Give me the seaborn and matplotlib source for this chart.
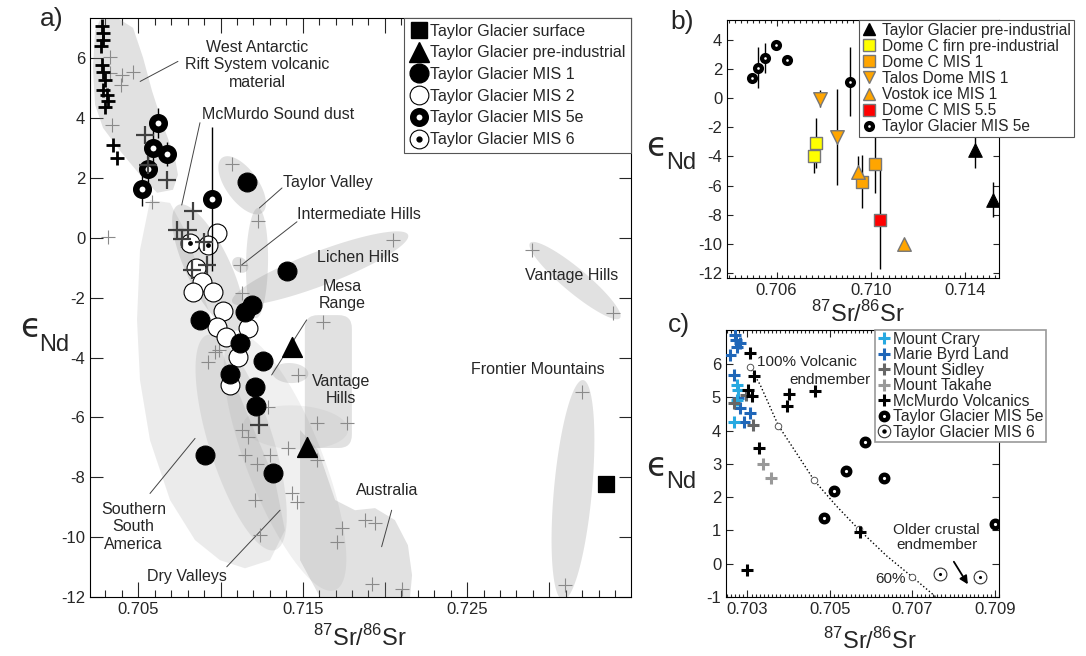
import numpy as np
import seaborn as sns
import matplotlib.pyplot as plt
from matplotlib.lines import Line2D
from matplotlib.patches import Polygon, FancyBboxPatch
from matplotlib.ticker import MultipleLocator, FixedLocator, FuncFormatter

sns.set_style('ticks')
plt.rcParams['font.family'] = ['Liberation Sans', 'DejaVu Sans']
plt.rcParams['mathtext.fontset'] = 'custom'
plt.rcParams['mathtext.rm'] = 'Liberation Sans'
plt.rcParams['axes.unicode_minus'] = False

# ---------------- panel a data ----------------
a_surface_x = [0.73345]
a_surface_y = [-8.23]
a_preind_x = [0.71433, 0.71524]
a_preind_y = [-3.66, -6.99]
a_mis1_x = [0.71159, 0.71403, 0.71190, 0.71149, 0.70875, 0.71119, 0.71260, 0.71058, 0.71210, 0.71216, 0.70906, 0.71317]
a_mis1_y = [1.88, -1.09, -2.24, -2.46, -2.74, -3.50, -4.12, -4.55, -4.97, -5.62, -7.26, -7.87]
a_mis2_x = [0.70977, 0.70851, 0.70886, 0.70835, 0.70956, 0.71013, 0.70977, 0.71033, 0.71165, 0.71108, 0.71058]
a_mis2_y = [0.16, -1.01, -1.46, -1.80, -1.80, -2.44, -2.97, -3.30, -3.00, -3.97, -4.92]
a_mis5e_x = [0.70622, 0.70591, 0.70676, 0.70561, 0.70521, 0.70946]
a_mis5e_y = [3.84, 3.00, 2.81, 2.30, 1.63, 1.30]
a_mis5e_err = [0.5, 0.7, 0.4, 0.5, 0.55, 2.4]
a_mis6_x = [0.70815, 0.70922]
a_mis6_y = [-0.18, -0.23]

a_wars_x = [0.70277, 0.70287, 0.70283, 0.70271, 0.70281, 0.70287, 0.70297, 0.70287, 0.70308, 0.70318, 0.70297, 0.70348, 0.70369]
a_wars_y = [7.07, 6.85, 6.62, 6.40, 5.79, 5.56, 5.28, 4.95, 4.78, 4.56, 4.39, 3.11, 2.67]
a_dust_x = [0.70541, 0.70561, 0.70676, 0.70831, 0.70734, 0.70804, 0.70764, 0.70900, 0.70825, 0.70916, 0.71235]
a_dust_y = [3.44, 2.44, 1.94, 0.91, 0.27, 0.27, -0.04, -0.12, -1.07, -0.90, -6.25]
a_src_x = [0.70328, 0.70328, 0.70399, 0.70393, 0.70466, 0.70338, 0.70582, 0.70318, 0.71068, 0.71230,
           0.71119, 0.71129, 0.71625, 0.72047, 0.72893, 0.73389, 0.73197, 0.73096, 0.71879, 0.71940,
           0.71920, 0.72102, 0.70967, 0.70926, 0.70990, 0.71473, 0.71291, 0.71129, 0.71170, 0.71585,
           0.71768, 0.71412, 0.71585, 0.71149, 0.71220, 0.71301, 0.71210, 0.71433, 0.71464, 0.71240,
           0.71737, 0.71707]
a_src_y = [6.06, 5.51, 5.45, 5.12, 5.56, 3.78, 1.21, 0.02, 2.47, 0.55,
           -0.90, -1.85, -2.80, -0.07, -0.40, -2.52, -5.14, -11.60, -9.43, -9.54,
           -11.55, -11.72, -3.80, -4.14, -3.75, -4.58, -5.64, -6.42, -6.65, -6.20,
           -6.20, -7.03, -7.42, -7.26, -7.54, -7.26, -8.76, -8.54, -8.82, -9.93,
           -9.71, -10.16]

# source fields (outlines)
wars_field = [(0.70267, 7.29), (0.70370, 7.36), (0.70468, 7.02), (0.70529, 6.02), (0.70583, 4.92),
              (0.70650, 3.78), (0.70723, 2.68), (0.70741, 2.11), (0.70711, 1.61), (0.70614, 1.51),
              (0.70510, 2.11), (0.70389, 2.91), (0.70285, 3.68), (0.70237, 4.45), (0.70224, 5.69),
              (0.70237, 6.92)]
ssa_field = [(0.70572, 1.27), (0.70693, 1.17), (0.70814, -0.07), (0.70906, -2.07), (0.71027, -4.08),
             (0.71179, -6.09), (0.71331, -8.09), (0.71392, -9.77), (0.71301, -10.77), (0.71149, -11.04),
             (0.70997, -10.77), (0.70845, -10.10), (0.70693, -8.76), (0.70571, -6.76), (0.70510, -4.75),
             (0.70492, -2.74), (0.70510, -0.40)]
aus_field = [(0.71484, -6.42), (0.71593, -7.09), (0.71697, -8.76), (0.71818, -9.10), (0.71940, -9.03),
             (0.72061, -9.43), (0.72140, -10.27), (0.72165, -11.27), (0.72153, -12.0), (0.71605, -12.0),
             (0.71484, -10.77)]
# ovals: tip 1, tip 2, half width (px), alpha
ovals = {
    'mcmurdo': ((0.70742, 1.10), (0.71107, -3.08), 22, 0.26),
    'taylor': ((0.71010, 2.68), (0.71253, 0.84), 16, 0.26),
    'intermediate': ((0.71228, 1.00), (0.71216, -2.68), 11, 0.24),
    'lichen': ((0.71071, -2.14), (0.72141, 0.10), 17, 0.26),
    'mesa': ((0.71315, -4.48), (0.71534, -4.55), 10, 0.24),
    'dry1': ((0.70919, -3.24), (0.71332, -10.43), 32, 0.17),
    'dry2': ((0.71088, -3.24), (0.71697, -11.77), 38, 0.13),
    'vantage_r': ((0.72883, -0.17), (0.73430, -2.68), 12, 0.26),
    'frontier': ((0.73205, -4.75), (0.73083, -12.10), 19, 0.26),
}

# ---------------- panel b data ----------------
b_tgpi_x, b_tgpi_y, b_tgpi_e = [0.71439, 0.71517], [-3.57, -6.97], [1.2, 1.2]
b_firn_x, b_firn_y, b_firn_e = [0.70766, 0.70758], [-3.11, -3.96], [1.72, 1.17]
b_dcm1_x, b_dcm1_y, b_dcm1_e = [0.70961, 0.71017], [-5.75, -4.54], [1.83, 1.97]
b_talos_x, b_talos_y, b_talos_e = [0.70785, 0.70858], [-0.02, -2.66], [0.6, 3.3]
b_vostok_x, b_vostok_y, b_vostok_e = [0.70943, 0.71138], [-5.07, -10.0], [1.1, 0.0]
b_dc55_x, b_dc55_y, b_dc55_e = [0.71037], [-8.35], [3.4]
b_5e_x = [0.70498, 0.70520, 0.70552, 0.70597, 0.70644, 0.70913]
b_5e_y = [1.36, 2.10, 2.74, 3.66, 2.62, 1.13]
b_5e_e = [0.3, 1.43, 1.03, 0.2, 0.3, 2.37]

# ---------------- panel c data ----------------
c_crary_x = [0.70274, 0.70276, 0.70275, 0.70267]
c_crary_y = [5.37, 5.22, 4.92, 4.27]
c_mbl_x = [0.70270, 0.70272, 0.70281, 0.70274, 0.70257, 0.70267, 0.70276, 0.70283, 0.70305, 0.70291]
c_mbl_y = [6.87, 6.72, 6.62, 6.52, 6.27, 5.67, 4.97, 4.67, 4.52, 4.27]
c_sidley_x = [0.70267, 0.70296, 0.70314]
c_sidley_y = [4.82, 5.07, 4.17]
c_takahe_x = [0.70337, 0.70357]
c_takahe_y = [2.99, 2.58]
c_mcm_x = [0.70305, 0.70315, 0.70301, 0.70311, 0.70400, 0.70395, 0.70464, 0.70328, 0.70300, 0.70574]
c_mcm_y = [6.32, 5.64, 5.22, 5.04, 5.09, 4.74, 5.20, 3.49, -0.19, 0.96]
c_5e_x = [0.70585, 0.70539, 0.70632, 0.70510, 0.70486, 0.70900]
c_5e_y = [3.67, 2.78, 2.58, 2.18, 1.38, 1.18]
c_6_x = [0.70768, 0.70865]
c_6_y = [-0.30, -0.39]
mix_x = [0.70305, 0.70375, 0.70462, 0.70570, 0.70700]
mix_y = [5.92, 4.15, 2.50, 1.03, -0.40]
mixline_x = [0.70305, 0.70331, 0.70375, 0.70420, 0.70462, 0.70516, 0.70570, 0.70638, 0.70700, 0.70759]
mixline_y = [5.92, 5.37, 4.15, 3.30, 2.50, 1.73, 1.03, 0.23, -0.40, -1.02]

W, H = 1086, 656
fig = plt.figure(figsize=(W / 100, H / 100), dpi=100)


def box(l, t, r, b):
    return [l / W, 1 - b / H, (r - l) / W, (b - t) / H]


axa = fig.add_axes(box(90, 18, 631, 597))
axb = fig.add_axes(box(727, 20, 998.5, 278))
axc = fig.add_axes(box(726, 330, 999, 597))


def pts(ax, x, y, **kw):
    sns.scatterplot(x=x, y=y, ax=ax, legend=False, **kw)


def oval(ax, p1, p2, hw, alpha, fc='#8c8c8c', z=1):
    tr = ax.transData
    a, b = tr.transform([p1, p2])
    c = (a + b) / 2
    half = np.hypot(*(b - a)) / 2
    ang = np.arctan2(b[1] - a[1], b[0] - a[0])
    t = np.linspace(0, 2 * np.pi, 120)
    u, v = half * np.cos(t), hw * np.sin(t)
    xy = np.column_stack([c[0] + u * np.cos(ang) - v * np.sin(ang),
                          c[1] + u * np.sin(ang) + v * np.cos(ang)])
    ax.add_patch(Polygon(tr.inverted().transform(xy), closed=True, fc=fc, ec='none',
                         alpha=alpha, zorder=z))


def style(ax, fs=12):
    ax.tick_params(which='both', direction='in', top=True, right=True, labelsize=fs, width=0.8)
    for s in ax.spines.values():
        s.set_linewidth(0.8)
        s.set_color('black')


# ================= panel a =================
axa.set_xlim(0.70206, 0.73497)
axa.set_ylim(-12, 7.35)
axa.xaxis.set_major_locator(FixedLocator(np.arange(0.705, 0.7351, 0.005)))
axa.xaxis.set_minor_locator(MultipleLocator(0.001))
axa.xaxis.set_major_formatter(FuncFormatter(lambda v, p: f'{v:.3f}' if round(v * 1000) % 10 == 5 else ''))
axa.yaxis.set_major_locator(FixedLocator(np.arange(-12, 7, 2)))
style(axa)
axa.tick_params(axis='x', which='major', length=11)
axa.tick_params(axis='x', which='minor', length=5)
axa.tick_params(axis='y', which='major', length=9)

g = '#8c8c8c'
axa.add_patch(Polygon(ssa_field, closed=True, fc=g, ec='none', alpha=0.17, zorder=1))
axa.add_patch(Polygon(wars_field, closed=True, fc=g, ec='none', alpha=0.26, zorder=1))
axa.add_patch(Polygon(aus_field, closed=True, fc=g, ec='none', alpha=0.26, zorder=1))
axa.add_patch(FancyBboxPatch((0.71513, -7.02), 0.00286, 4.44, boxstyle='round,pad=0,rounding_size=0.0008',
                             mutation_aspect=550, fc=g, ec='none', alpha=0.26, zorder=1))
for key, (p1, p2, hw, al) in ovals.items():
    oval(axa, p1, p2, hw, al)
oval(axa, (0.71137, -6.25), (0.71776, -6.42), 22, 0.1)
oval(axa, (0.71080, -0.70), (0.71160, -1.10), 7, 0.28)

lead = dict(color='#444444', lw=0.7, zorder=2)
txt = dict(fontsize=11.5, zorder=6)
axa.plot([0.70511, 0.70741], [5.23, 5.90], **lead)
axa.text(0.71222, 5.79, 'West Antarctic\nRift System volcanic\nmaterial', ha='center', va='center', **txt)
axa.plot([0.70764, 0.70875], [1.10, 3.85], **lead)
axa.text(0.70886, 4.11, 'McMurdo Sound dust', ha='left', va='center', **txt)
axa.plot([0.71236, 0.71374], [1.00, 1.67], **lead)
axa.text(0.71378, 1.84, 'Taylor Valley', ha='left', va='center', **txt)
axa.plot([0.71129, 0.71465], [-0.90, 0.54], **lead)
axa.text(0.71465, 0.77, 'Intermediate Hills', ha='left', va='center', **txt)
axa.text(0.71585, -0.64, 'Lichen Hills', ha='left', va='center', **txt)
axa.plot([0.71311, 0.71524], [-4.58, -2.74], **lead)
axa.text(0.71739, -1.91, 'Mesa\nRange', ha='center', va='center', **txt)
axa.text(0.71733, -5.08, 'Vantage\nHills', ha='center', va='center', **txt)
axa.plot([0.70571, 0.70845], [-8.54, -6.70], **lead)
axa.text(0.70470, -9.66, 'Southern\nSouth\nAmerica', ha='center', va='center', **txt)
axa.plot([0.71038, 0.71362], [-10.99, -9.10], **lead)
axa.text(0.70794, -11.33, 'Dry Valleys', ha='center', va='center', **txt)
axa.plot([0.71980, 0.72041], [-10.32, -9.10], **lead)
axa.text(0.72011, -8.45, 'Australia', ha='center', va='center', **txt)
axa.text(0.73136, -1.24, 'Vantage Hills', ha='center', va='center', **txt)
axa.text(0.72933, -4.41, 'Frontier Mountains', ha='center', va='center', **txt)

pts(axa, a_src_x, a_src_y, marker='+', s=100, color='#8a8a8a', linewidth=0.8, zorder=2.5)
pts(axa, a_mis2_x, a_mis2_y, marker='o', s=185, color='white', edgecolor='black', linewidth=0.8, zorder=3)
pts(axa, a_mis6_x, a_mis6_y, marker='o', s=185, color='white', edgecolor='black', linewidth=0.8, zorder=3)
pts(axa, a_mis6_x, a_mis6_y, marker='o', s=12, color='black', edgecolor='black', linewidth=0, zorder=3.1)
pts(axa, a_mis1_x, a_mis1_y, marker='o', s=185, color='black', edgecolor='black', linewidth=0.8, zorder=3.2)
axa.errorbar(a_mis5e_x, a_mis5e_y, yerr=a_mis5e_err, fmt='none', ecolor='black', elinewidth=1, zorder=3.3)
pts(axa, a_mis5e_x, a_mis5e_y, marker='o', s=81, color='white', edgecolor='black', linewidth=4.7, zorder=3.4)
pts(axa, a_dust_x, a_dust_y, marker='+', s=150, color='#404040', linewidth=1.6, zorder=3.6)
pts(axa, a_wars_x, a_wars_y, marker='+', s=110, color='black', linewidth=2, zorder=3.7)
pts(axa, a_preind_x, a_preind_y, marker='^', s=200, color='black', edgecolor='black', zorder=4)
pts(axa, a_surface_x, a_surface_y, marker='s', s=130, color='black', edgecolor='black', zorder=4)

hd = dict(ls='none')
ha_ = [Line2D([], [], marker='s', ms=11.5, color='black', **hd),
       Line2D([], [], marker='^', ms=14, color='black', **hd),
       Line2D([], [], marker='o', ms=13.5, color='black', **hd),
       Line2D([], [], marker='o', ms=13.5, mfc='white', mec='black', mew=0.8, **hd),
       Line2D([], [], marker='o', ms=9, mfc='white', mec='black', mew=4.7, **hd),
       (Line2D([], [], marker='o', ms=13.5, mfc='white', mec='black', mew=0.8, **hd),
        Line2D([], [], marker='o', ms=3.5, color='black', **hd))]
la = axa.legend(ha_, ['Taylor Glacier surface', 'Taylor Glacier pre-industrial', 'Taylor Glacier MIS 1',
                      'Taylor Glacier MIS 2', 'Taylor Glacier MIS 5e', 'Taylor Glacier MIS 6'],
                loc='upper right', bbox_to_anchor=(1, 1), borderaxespad=0, fontsize=11.5, frameon=True,
                fancybox=False, edgecolor='#555555', framealpha=1, handlelength=1.1, handletextpad=0.15,
                labelspacing=0.42, borderpad=0.35)
la.get_frame().set_linewidth(0.8)
la.set_zorder(10)

# ================= panel b =================
axb.set_xlim(0.7039, 0.7154)
axb.set_ylim(-12.36, 5.38)
axb.xaxis.set_major_locator(FixedLocator([0.706, 0.710, 0.714]))
axb.xaxis.set_minor_locator(MultipleLocator(0.00025))
axb.xaxis.set_major_formatter(FuncFormatter(lambda v, p: f'{v:.3f}'))
axb.yaxis.set_major_locator(FixedLocator(np.arange(-12, 5, 2)))
style(axb)
axb.tick_params(which='major', length=4)
axb.tick_params(which='minor', length=2.5)

eb = dict(fmt='none', ecolor='black', elinewidth=1, zorder=2)
for xs, ys, es in [(b_tgpi_x, b_tgpi_y, b_tgpi_e), (b_firn_x, b_firn_y, b_firn_e),
                   (b_dcm1_x, b_dcm1_y, b_dcm1_e), (b_talos_x, b_talos_y, b_talos_e),
                   (b_vostok_x, b_vostok_y, b_vostok_e), (b_dc55_x, b_dc55_y, b_dc55_e),
                   (b_5e_x, b_5e_y, b_5e_e)]:
    axb.errorbar(xs, ys, yerr=es, **eb)
ec = '#777777'
pts(axb, b_tgpi_x, b_tgpi_y, marker='^', s=95, color='black', edgecolor='black', zorder=3)
pts(axb, b_firn_x, b_firn_y, marker='s', s=70, color='#ffff00', edgecolor=ec, linewidth=1, zorder=3)
pts(axb, b_dcm1_x, b_dcm1_y, marker='s', s=70, color='#ffa500', edgecolor=ec, linewidth=1, zorder=3)
pts(axb, b_talos_x, b_talos_y, marker='v', s=95, color='#ffa500', edgecolor=ec, linewidth=1, zorder=3)
pts(axb, b_vostok_x, b_vostok_y, marker='^', s=95, color='#ffa500', edgecolor=ec, linewidth=1, zorder=3)
pts(axb, b_dc55_x, b_dc55_y, marker='s', s=70, color='#ff0000', edgecolor=ec, linewidth=1, zorder=3)
pts(axb, b_5e_x, b_5e_y, marker='o', s=25, color='white', edgecolor='black', linewidth=3, zorder=3)

hb = [Line2D([], [], marker='^', ms=9, color='black', **hd),
      Line2D([], [], marker='s', ms=8, mfc='#ffff00', mec=ec, **hd),
      Line2D([], [], marker='s', ms=8, mfc='#ffa500', mec=ec, **hd),
      Line2D([], [], marker='v', ms=9, mfc='#ffa500', mec=ec, **hd),
      Line2D([], [], marker='^', ms=9, mfc='#ffa500', mec=ec, **hd),
      Line2D([], [], marker='s', ms=8, mfc='#ff0000', mec=ec, **hd),
      Line2D([], [], marker='o', ms=5, mfc='white', mec='black', mew=3, **hd)]
lb = axb.legend(hb, ['Taylor Glacier pre-industrial', 'Dome C firn pre-industrial', 'Dome C MIS 1',
                     'Talos Dome MIS 1', 'Vostok ice MIS 1', 'Dome C MIS 5.5', 'Taylor Glacier MIS 5e'],
                loc='upper left', bbox_to_anchor=(859 / W, 1 - 19.5 / H), bbox_transform=fig.transFigure,
                borderaxespad=0, fontsize=11.2, frameon=True, fancybox=False, edgecolor='#555555',
                framealpha=1, handlelength=0.9, handletextpad=0.4, labelspacing=0.07, borderpad=0.2)
lb.get_frame().set_linewidth(0.8)

# ================= panel c =================
axc.set_xlim(0.70248, 0.7091)
axc.set_ylim(-1, 7.02)
axc.xaxis.set_major_locator(FixedLocator([0.703, 0.705, 0.707, 0.709]))
axc.xaxis.set_minor_locator(MultipleLocator(0.0001))
axc.xaxis.set_major_formatter(FuncFormatter(lambda v, p: f'{v:.3f}'))
axc.yaxis.set_major_locator(FixedLocator(np.arange(-1, 7, 1)))
style(axc)
axc.tick_params(which='major', length=5)
axc.tick_params(which='minor', length=2.5)

axc.plot(mixline_x, mixline_y, ls=':', color='black', lw=1, zorder=2)
pts(axc, mix_x, mix_y, marker='o', s=22, color='white', edgecolor='#555555', linewidth=0.7, zorder=2.5)
cr = dict(marker='+', s=80, linewidth=2.2, zorder=3)
pts(axc, c_mbl_x, c_mbl_y, color='#1f66b8', **cr)
pts(axc, c_crary_x, c_crary_y, color='#27a9e1', **cr)
pts(axc, c_sidley_x, c_sidley_y, color='#666666', **cr)
pts(axc, c_takahe_x, c_takahe_y, color='#999999', **cr)
pts(axc, c_mcm_x, c_mcm_y, color='black', **cr)
pts(axc, c_5e_x, c_5e_y, marker='o', s=30, color='white', edgecolor='black', linewidth=3.1, zorder=3)
pts(axc, c_6_x, c_6_y, marker='o', s=85, color='white', edgecolor='#333333', linewidth=0.8, zorder=3)
pts(axc, c_6_x, c_6_y, marker='o', s=5, color='black', edgecolor='black', linewidth=0, zorder=3.1)

tc = dict(fontsize=11, zorder=6)
axc.text(0.70323, 6.07, '100% Volcanic', ha='left', va='center', **tc)
axc.text(0.70599, 5.52, 'endmember', ha='right', va='center', **tc)
axc.text(0.70759, 0.79, 'Older crustal\nendmember', ha='center', va='center', linespacing=1.1, **tc)
axc.text(0.70647, -0.45, '60%', ha='center', va='center', **tc)
axc.annotate('', xy=(0.70838, -0.69), xytext=(0.70797, 0.13),
             arrowprops=dict(arrowstyle='-|>', color='black', lw=1.3, mutation_scale=12))

hc = [Line2D([], [], marker='+', ms=9, mew=2.2, color=c, **hd)
      for c in ['#27a9e1', '#1f66b8', '#666666', '#999999', 'black']]
hc += [Line2D([], [], marker='o', ms=5.4, mfc='white', mec='black', mew=3.1, **hd),
       (Line2D([], [], marker='o', ms=9, mfc='white', mec='#333333', mew=0.8, **hd),
        Line2D([], [], marker='o', ms=2.2, color='black', **hd))]
lc = axc.legend(hc, ['Mount Crary', 'Marie Byrd Land', 'Mount Sidley', 'Mount Takahe', 'McMurdo Volcanics',
                     'Taylor Glacier MIS 5e', 'Taylor Glacier MIS 6'],
                loc='upper left', bbox_to_anchor=(875 / W, 1 - 329.5 / H), bbox_transform=fig.transFigure,
                borderaxespad=0, fontsize=11.3, frameon=True, fancybox=False, edgecolor='#999999',
                framealpha=1, handlelength=0.8, handletextpad=0.2, labelspacing=0.03, borderpad=0.15)
lc.get_frame().set_linewidth(1.2)

# ================= labels =================
srlab = r'$^{\mathrm{87}}$Sr/$^{\mathrm{86}}$Sr'
fig.text(360 / W, 1 - 638 / H, srlab, ha='center', va='center', fontsize=17)
fig.text(858 / W, 1 - 314 / H, srlab, ha='center', va='center', fontsize=17)
fig.text(870 / W, 1 - 641 / H, srlab, ha='center', va='center', fontsize=17)
for ex, ey, nx, ny in [(30, 327, 54, 345), (656, 146, 681, 163), (656, 466, 681, 482)]:
    fig.text(ex / W, 1 - ey / H, '\u03f5', ha='center', va='center', fontsize=24,
             family=['DejaVu Sans'])
    fig.text(nx / W, 1 - ny / H, 'Nd', ha='center', va='center', fontsize=17)
fig.text(52 / W, 1 - 19 / H, 'a)', ha='center', va='center', fontsize=19)
fig.text(682 / W, 1 - 22 / H, 'b)', ha='center', va='center', fontsize=19)
fig.text(679 / W, 1 - 325 / H, 'c)', ha='center', va='center', fontsize=19)

fig.savefig('out.png', dpi=100)
